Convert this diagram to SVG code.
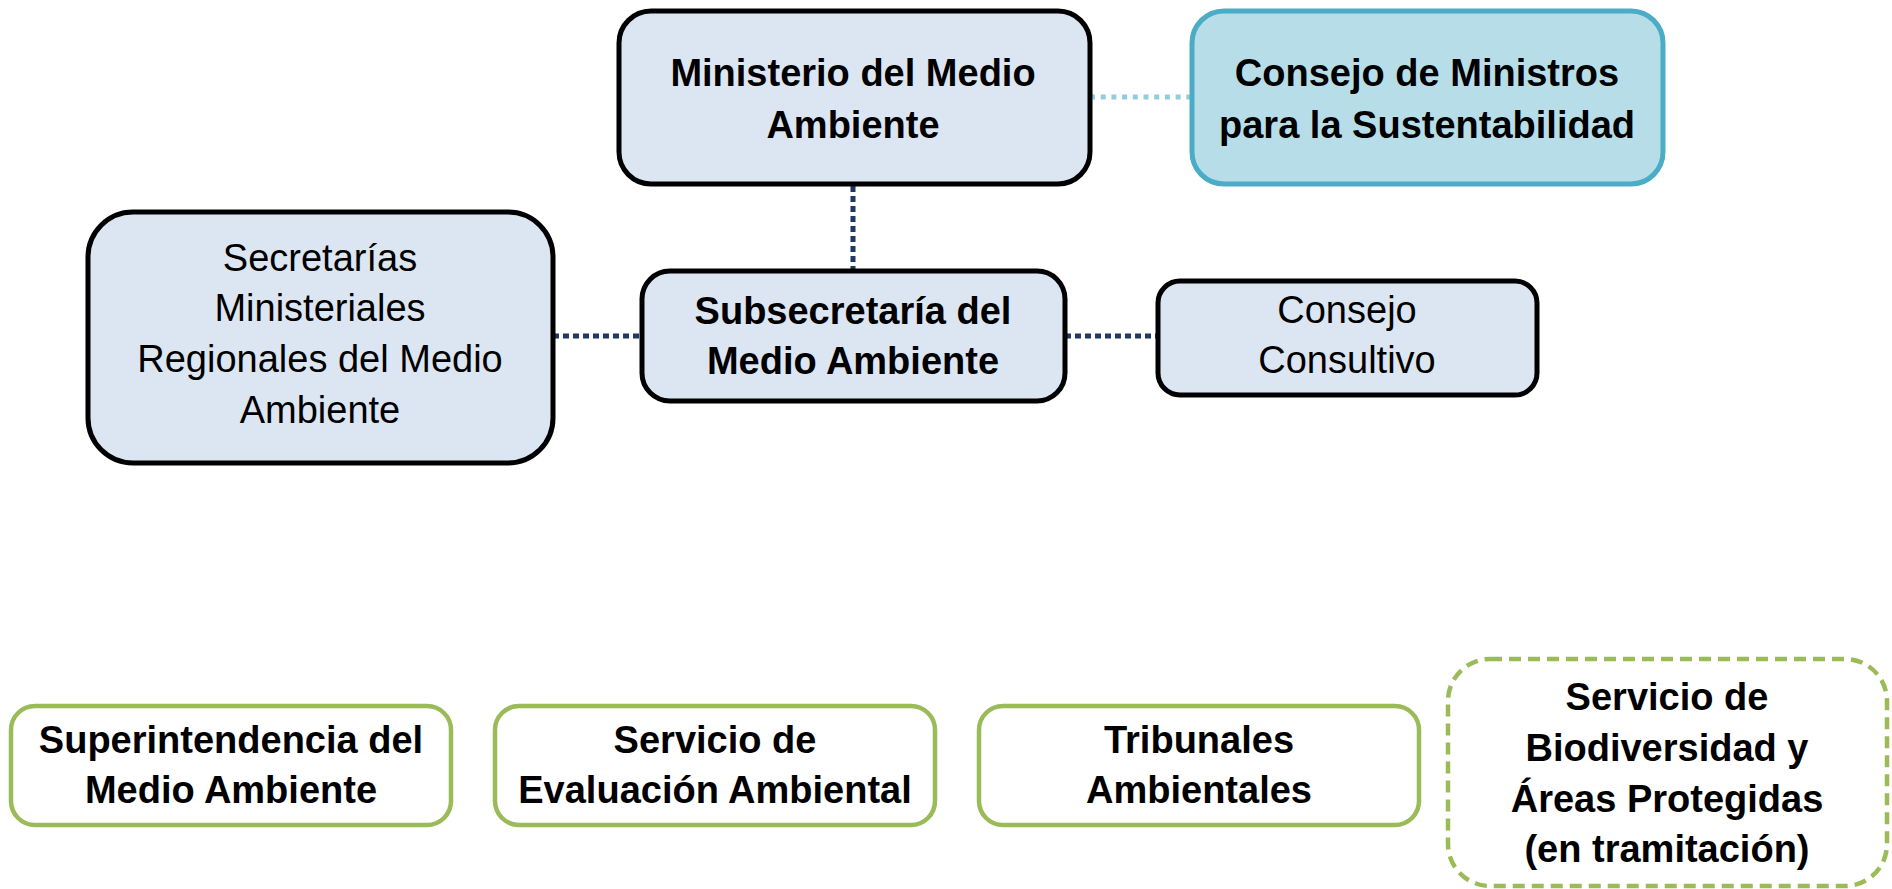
<svg xmlns="http://www.w3.org/2000/svg" width="1892" height="889" viewBox="0 0 1892 889">
<style>
.box{fill:#DCE6F2;stroke:#000;stroke-width:5}
.teal{fill:#B7DEE8;stroke:#4BACC6;stroke-width:5}
.green{fill:#fff;stroke:#9BBB59;stroke-width:4.5}
.gdash{fill:#fff;stroke:#9BBB59;stroke-width:4.5;stroke-dasharray:12 7}
.dk{stroke:#1F3864;stroke-width:5;stroke-dasharray:6 4;fill:none}
.lb{stroke:#92CDDC;stroke-width:5;stroke-dasharray:5 5.7;fill:none}
text{font-family:"Liberation Sans",Arial,sans-serif;font-size:38px;fill:#000;text-anchor:middle}
.b{font-weight:bold}
</style>
<rect width="1892" height="889" fill="#fff"/>
<g id="connectors">
<line class="dk" x1="853" y1="186" x2="853" y2="270"/>
<line class="dk" x1="553" y1="336" x2="641" y2="336"/>
<line class="dk" x1="1065" y1="336" x2="1157" y2="336"/>
<line class="lb" x1="1090" y1="97" x2="1191" y2="97"/>
</g>
<g id="ministerio">
<rect class="box" x="619" y="11" width="471" height="173" rx="32"/>
<text class="b" x="853" y="86">Ministerio del Medio</text>
<text class="b" x="853" y="138">Ambiente</text>
</g>
<g id="consejo-ministros">
<rect class="teal" x="1192" y="11" width="471" height="173" rx="32"/>
<text class="b" x="1427" y="86">Consejo de Ministros</text>
<text class="b" x="1427" y="138">para la Sustentabilidad</text>
</g>
<g id="secretarias">
<rect class="box" x="88" y="212" width="465" height="251" rx="45"/>
<text x="320" y="271">Secretarías</text>
<text x="320" y="321">Ministeriales</text>
<text x="320" y="372">Regionales del Medio</text>
<text x="320" y="423">Ambiente</text>
</g>
<g id="subsecretaria">
<rect class="box" x="642" y="271" width="423" height="130" rx="28"/>
<text class="b" x="853" y="324">Subsecretaría del</text>
<text class="b" x="853" y="374">Medio Ambiente</text>
</g>
<g id="consejo-consultivo">
<rect class="box" x="1158" y="281" width="379" height="114" rx="22"/>
<text x="1347" y="323">Consejo</text>
<text x="1347" y="373">Consultivo</text>
</g>
<g id="superintendencia">
<rect class="green" x="11" y="706" width="440" height="119" rx="24"/>
<text class="b" x="231" y="753">Superintendencia del</text>
<text class="b" x="231" y="803">Medio Ambiente</text>
</g>
<g id="sea">
<rect class="green" x="495" y="706" width="440" height="119" rx="24"/>
<text class="b" x="715" y="753">Servicio de</text>
<text class="b" x="715" y="803">Evaluación Ambiental</text>
</g>
<g id="tribunales">
<rect class="green" x="979" y="706" width="440" height="119" rx="24"/>
<text class="b" x="1199" y="753">Tribunales</text>
<text class="b" x="1199" y="803">Ambientales</text>
</g>
<g id="sbap">
<rect class="gdash" x="1448" y="659" width="439" height="227" rx="42"/>
<text class="b" x="1667" y="710">Servicio de</text>
<text class="b" x="1667" y="761">Biodiversidad y</text>
<text class="b" x="1667" y="812">Áreas Protegidas</text>
<text class="b" x="1667" y="862">(en tramitación)</text>
</g>
</svg>
